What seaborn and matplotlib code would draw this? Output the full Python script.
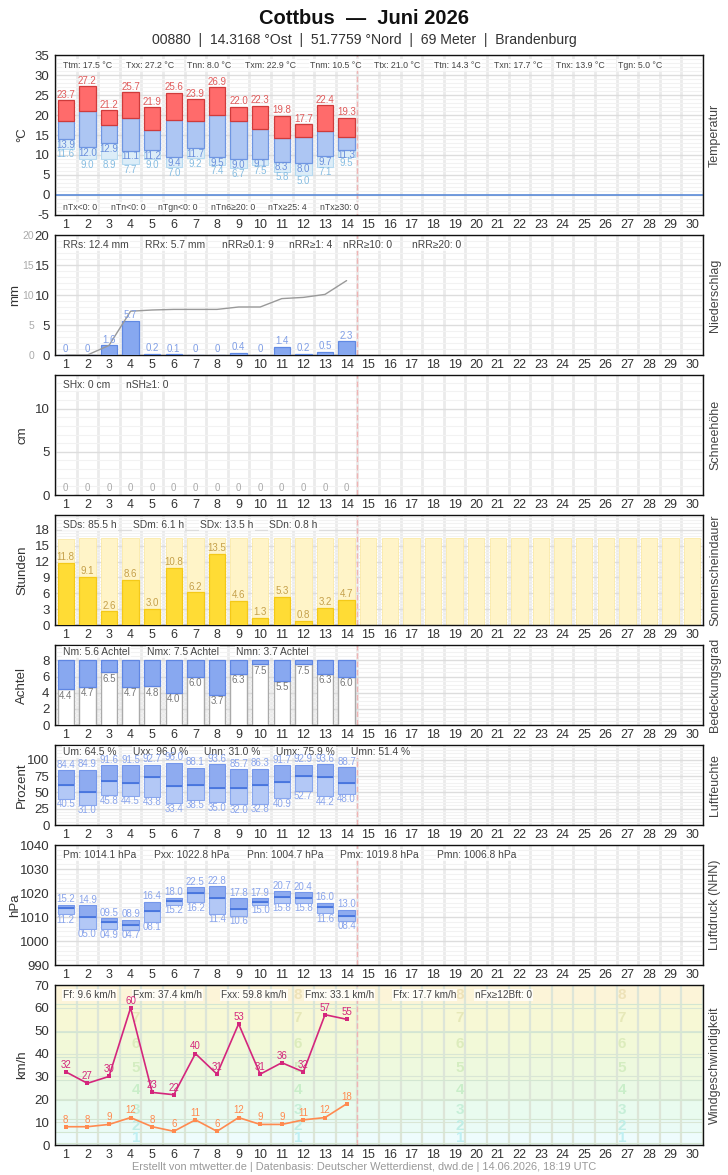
import numpy as np
import matplotlib
matplotlib.use("Agg")
import matplotlib.pyplot as plt
import seaborn as sns
from matplotlib.ticker import MultipleLocator

sns.set_theme(style="white")
plt.rcParams['font.family'] = ['Liberation Sans', 'DejaVu Sans']
plt.rcParams['axes.unicode_minus'] = False

# ---------------- data ----------------
days = list(range(1, 31))
obs_days = list(range(1, 15))

t_max = [23.7, 27.2, 21.2, 25.7, 21.9, 25.6, 23.9, 26.9, 22.0, 22.3, 19.8, 17.7, 22.4, 19.3]
t_mean = [18.5, 21.0, 17.6, 19.2, 16.2, 18.7, 18.5, 19.9, 18.5, 16.4, 14.3, 14.4, 16.0, 14.4]
t_min = [13.9, 12.0, 12.9, 11.1, 11.2, 9.4, 11.7, 9.5, 9.0, 9.1, 8.3, 8.0, 9.7, 11.3]
t_ground = [11.6, 9.0, 8.9, 7.7, 9.0, 7.0, 9.2, 7.4, 6.7, 7.5, 5.8, 5.0, 7.1, 9.5]

precip = [0, 0, 1.6, 5.7, 0.2, 0.1, 0, 0, 0.4, 0, 1.4, 0.2, 0.5, 2.3]
snow = [0, 0, 0, 0, 0, 0, 0, 0, 0, 0, 0, 0, 0, 0]

sun = [11.8, 9.1, 2.6, 8.6, 3.0, 10.8, 6.2, 13.5, 4.6, 1.3, 5.3, 0.8, 3.2, 4.7]
sun_possible = [16.3, 16.4, 16.4, 16.4, 16.4, 16.4, 16.4, 16.4, 16.4, 16.4,
                16.4, 16.4, 16.4, 16.4, 16.4, 16.4, 16.4, 16.4, 16.4, 16.4,
                16.4, 16.4, 16.4, 16.4, 16.4, 16.4, 16.4, 16.4, 16.4, 16.4]

cloud = [4.4, 4.7, 6.5, 4.7, 4.8, 4.0, 6.0, 3.7, 6.3, 7.5, 5.5, 7.5, 6.3, 6.0]

hum_max = [84.4, 84.9, 91.6, 91.5, 92.7, 96.0, 88.1, 93.6, 85.7, 86.3, 91.7, 92.9, 93.6, 88.7]
hum_mean = [61.5, 51.4, 67.0, 64.5, 73.8, 60.0, 61.5, 56.5, 56.5, 61.5, 66.0, 75.9, 73.8, 64.5]
hum_min = [40.5, 31.0, 45.8, 44.5, 43.8, 33.4, 38.5, 35.0, 32.0, 32.8, 40.9, 52.7, 44.2, 48.0]

p_max = [1015.2, 1014.9, 1009.5, 1008.9, 1016.4, 1018.0, 1022.5, 1022.8, 1017.8, 1017.9, 1020.7, 1020.4, 1016.0, 1013.0]
p_mean = [1013.8, 1009.8, 1007.9, 1006.8, 1012.5, 1016.7, 1019.8, 1017.8, 1013.2, 1016.3, 1018.2, 1017.8, 1014.0, 1010.3]
p_min = [1011.2, 1005.0, 1004.9, 1004.7, 1008.1, 1015.2, 1016.2, 1011.4, 1010.6, 1015.0, 1015.8, 1015.8, 1011.6, 1008.4]

wind_fx = [32, 27, 30, 60, 23, 22, 40, 31, 53, 31, 36, 32, 57, 55]
wind_ff = [8, 8, 9, 12, 8, 6, 11, 6, 12, 9, 9, 11, 12, 18]

bft_edges = [0, 1, 5.5, 11.5, 19.5, 28.5, 38.5, 49.5, 61.5, 70]
bft_fill = ['#f3fdff', '#eefcfd', '#eafbf6', '#e9fbef', '#eaf9e5', '#eef9de',
            '#f2f9d8', '#f7f8d5', '#fcf4d8']
bft_text = [None, '#bfeff2', '#bfeee6', '#c6efd8', '#c9eec9', '#d4edc1',
            '#dcecbc', '#e6e8b8', '#eee2b8']

stats_temp_top = ["Ttm: 17.5 °C", "Txx: 27.2 °C", "Tnn: 8.0 °C", "Txm: 22.9 °C", "Tnm: 10.5 °C",
                  "Ttx: 21.0 °C", "Ttn: 14.3 °C", "Txn: 17.7 °C", "Tnx: 13.9 °C", "Tgn: 5.0 °C"]
stats_temp_bot = ["nTx<0: 0", "nTn<0: 0", "nTgn<0: 0", "nTn6≥20: 0", "nTx≥25: 4", "nTx≥30: 0"]
stats_precip = ["RRs: 12.4 mm", "RRx: 5.7 mm", "nRR≥0.1: 9", "nRR≥1: 4", "nRR≥10: 0", "nRR≥20: 0"]
stats_snow = ["SHx: 0 cm", "nSH≥1: 0"]
stats_sun = ["SDs: 85.5 h", "SDm: 6.1 h", "SDx: 13.5 h", "SDn: 0.8 h"]
stats_cloud = ["Nm: 5.6 Achtel", "Nmx: 7.5 Achtel", "Nmn: 3.7 Achtel"]
stats_hum = ["Um: 64.5 %", "Uxx: 96.0 %", "Unn: 31.0 %", "Umx: 75.9 %", "Umn: 51.4 %"]
stats_press = ["Pm: 1014.1 hPa", "Pxx: 1022.8 hPa", "Pnn: 1004.7 hPa", "Pmx: 1019.8 hPa", "Pmn: 1006.8 hPa"]
stats_wind = ["Ff: 9.6 km/h", "Fxm: 37.4 km/h", "Fxx: 59.8 km/h", "Fmx: 33.1 km/h", "Ffx: 17.7 km/h", "nFx≥12Bft: 0"]

# ---------------- layout ----------------
W, H = 728, 1175
fig = plt.figure(figsize=(W / 100, H / 100), dpi=100)
fig.patch.set_facecolor('white')
AX_L, AX_W = 55, 648


def add_ax(top, bottom):
    return fig.add_axes([AX_L / W, 1 - bottom / H, AX_W / W, (bottom - top) / H])


def style(ax, ylim, major, minor, ylabel, rlabel, ylx=22):
    ax.set_xlim(0.5, 30.5)
    ax.set_ylim(*ylim)
    ax.set_facecolor('white')
    ax.yaxis.set_major_locator(MultipleLocator(major))
    ax.yaxis.set_minor_locator(MultipleLocator(minor))
    ax.set_xticks(days)
    ax.set_xticklabels([str(d) for d in days])
    ax.set_xticks(np.arange(0.5, 31, 1), minor=True)
    ax.tick_params(axis='both', which='both', length=0)
    ax.tick_params(axis='x', labelsize=9, colors='#333333', pad=3)
    ax.tick_params(axis='y', labelsize=9.5, colors='#333333', pad=4)
    ax.grid(False)
    ax.grid(True, which='minor', axis='y', color='#f2f2f2', lw=0.8)
    ax.grid(True, which='major', axis='y', color='#dddddd', lw=1)
    ax.grid(True, which='minor', axis='x', color='#ebebeb', lw=2)
    ax.set_axisbelow(True)
    ax.set_xlabel('')
    ax.set_ylabel('')
    for s in ax.spines.values():
        s.set_visible(True)
        s.set_color('#111111')
        s.set_linewidth(1)
    ax.axvline(14.5, color='#f0b4b4', lw=1, ls=(0, (4, 2)), zorder=1.5)
    ax.text((ylx - AX_L) / AX_W, 0.5, ylabel, transform=ax.transAxes, rotation=90,
            ha='center', va='center', fontsize=9.5, color='#333333')
    ax.text((715 - AX_L) / AX_W, 0.5, rlabel, transform=ax.transAxes, rotation=90,
            ha='center', va='center', fontsize=9, color='#444444')


def stats(ax, items, xs, top_px, y_px, fs=7.4):
    bb = ax.get_position()
    h_px = bb.height * H
    for it, xp in zip(items, xs):
        ax.text((xp - AX_L) / AX_W, 1 - (y_px - top_px) / h_px, it, transform=ax.transAxes,
                ha='left', va='center', fontsize=fs, color='#444444', zorder=6,
                bbox=dict(facecolor='white', edgecolor='none', pad=0.8, alpha=0.75))


def labels(ax, xs, ys, texts, color, va, off, fs=7):
    for x, y, t in zip(xs, ys, texts):
        ax.annotate(t, (x, y), xytext=(0, off), textcoords='offset points',
                    ha='center', va=va, fontsize=fs, color=color, zorder=7)


BW = 0.76
x = np.array(obs_days)

# ---------------- Temperatur ----------------
ax = add_ax(55, 215)
tmx, tme, tmi, tg = map(np.array, (t_max, t_mean, t_min, t_ground))
ax.bar(x, tmi - tg, bottom=tg, width=BW, color='#dcedf8', edgecolor='#b7daf0', lw=0.8, zorder=3)
ax.bar(x, tme - tmi, bottom=tmi, width=BW, color='#adc6f3', edgecolor='#6f96e2', lw=0.9, zorder=3)
ax.bar(x, tmx - tme, bottom=tme, width=BW, color='#ff6b6b', edgecolor='#cf3b3b', lw=0.9, zorder=3)
ax.axhline(0, color='#5b8bd9', lw=1.2, zorder=2)
labels(ax, x, tmx, [f"{v:.1f}" for v in t_max], '#e05c5c', 'bottom', 0.5)
labels(ax, x, tmi, [f"{v:.1f}" for v in t_min], '#6b90dc', 'top', -0.5)
labels(ax, x, tg, [f"{v:.1f}" for v in t_ground], '#86bde2', 'top', -0.5)
style(ax, (-5, 35), 5, 1, '°C', 'Temperatur')
stats(ax, stats_temp_top, [63, 126, 187, 245, 310, 374, 434, 494, 556, 618], 55, 65, fs=6.3)
stats(ax, stats_temp_bot, [63, 111, 158, 211, 268, 320], 55, 208, fs=6.3)

# ---------------- Niederschlag ----------------
ax = add_ax(235, 355)
sns.barplot(x=obs_days, y=precip, native_scale=True, width=BW, color='#87a8f0', saturation=1,
            edgecolor='#6089e3', linewidth=0.9, errorbar=None, ax=ax, zorder=3)
sns.lineplot(x=obs_days, y=np.cumsum(precip), color='#999999', lw=1, ax=ax, zorder=4)
labels(ax, x, precip, [f"{v:g}" for v in precip], '#7f9ee6', 'bottom', 0.5)
style(ax, (0, 20), 5, 1, 'mm', 'Niederschlag', ylx=15)
sec = ax.secondary_yaxis(-14 / AX_W)
sec.yaxis.set_major_locator(MultipleLocator(5))
sec.tick_params(length=0, labelsize=7.5, colors='#aaaaaa', pad=5)
sec.spines['left'].set_visible(False)
stats(ax, stats_precip, [63, 145, 222, 289, 343, 412], 235, 245)

# ---------------- Schneehöhe ----------------
ax = add_ax(375, 495)
ax.bar(x, snow, width=BW, color='#dddddd', zorder=3)
labels(ax, x, snow, [f"{v:g}" for v in snow], '#aaaaaa', 'bottom', 1.5)
style(ax, (0, 13.9), 5, 1, 'cm', 'Schneehöhe')
stats(ax, stats_snow, [63, 126], 375, 385)

# ---------------- Sonnenscheindauer ----------------
ax = add_ax(515, 625)
sns.barplot(x=days, y=sun_possible, native_scale=True, width=BW, color='#fff4c8', saturation=1,
            edgecolor='#fbeaa8', linewidth=0.6, errorbar=None, ax=ax, zorder=2)
ax.bar(x, sun, width=BW, color='#ffdc35', edgecolor='#f4c918', lw=0.9, zorder=3)
labels(ax, x, sun, [f"{v:.1f}" for v in sun], '#c5a04a', 'bottom', 0.5)
style(ax, (0, 20.8), 3, 0.6, 'Stunden', 'Sonnenscheindauer')
stats(ax, stats_sun, [63, 133, 200, 269], 515, 525)

# ---------------- Bedeckungsgrad ----------------
ax = add_ax(645, 725)
cl = np.array(cloud)
ax.bar(x, cl, width=BW, color='white', edgecolor='#aaaaaa', lw=1, zorder=3)
ax.bar(x, 8 - cl, bottom=cl, width=BW, color='#88a8f0', edgecolor='#5f86e3', lw=0.9, zorder=3)
labels(ax, x, cl, [f"{v:.1f}" for v in cloud], '#777777', 'top', -1)
style(ax, (0, 9.9), 2, 0.5, 'Achtel', 'Bedeckungsgrad')
stats(ax, stats_cloud, [63, 147, 236], 645, 652)

# ---------------- Luftfeuchte ----------------
ax = add_ax(745, 825)
hmx, hme, hmi = map(np.array, (hum_max, hum_mean, hum_min))
ax.bar(x, hme - hmi, bottom=hmi, width=BW, color='#b3c8f6', edgecolor='#89a7ee', lw=0.8, zorder=3)
ax.bar(x, hmx - hme, bottom=hme, width=BW, color='#8eabf0', edgecolor='#7597ea', lw=0.8, zorder=3)
ax.hlines(hme, x - BW / 2, x + BW / 2, color='#4170dc', lw=1.2, zorder=4)
labels(ax, x, hmx, [f"{v:.1f}" for v in hum_max], '#8aa5ec', 'bottom', 0.3)
labels(ax, x, hmi, [f"{v:.1f}" for v in hum_min], '#8aa5ec', 'top', -0.3)
style(ax, (0, 123), 25, 5, 'Prozent', 'Luftfeuchte')
stats(ax, stats_hum, [63, 133, 204, 276, 351], 745, 752)

# ---------------- Luftdruck ----------------
ax = add_ax(845, 965)
pmx, pme, pmi = map(np.array, (p_max, p_mean, p_min))
ax.bar(x, pme - pmi, bottom=pmi, width=BW, color='#b3c8f6', edgecolor='#89a7ee', lw=0.8, zorder=3)
ax.bar(x, pmx - pme, bottom=pme, width=BW, color='#8eabf0', edgecolor='#7597ea', lw=0.8, zorder=3)
ax.hlines(pme, x - BW / 2, x + BW / 2, color='#4170dc', lw=1.2, zorder=4)
labels(ax, x, pmx, [f"{v - 1000:04.1f}" for v in p_max], '#8aa5ec', 'bottom', 0.3)
labels(ax, x, pmi, [f"{v - 1000:04.1f}" for v in p_min], '#8aa5ec', 'top', -0.3)
style(ax, (990, 1040), 10, 2, 'hPa', 'Luftdruck (NHN)', ylx=15)
stats(ax, stats_press, [63, 154, 247, 340, 437], 845, 855)

# ---------------- Windgeschwindigkeit ----------------
ax = add_ax(985, 1145)
for i in range(len(bft_fill)):
    ax.axhspan(bft_edges[i], bft_edges[i + 1], color=bft_fill[i], lw=0, zorder=0)
    if i > 0:
        ax.axhline(bft_edges[i], color='#d3e6d2', lw=0.8, zorder=1)
        yc = (bft_edges[i] + bft_edges[i + 1]) / 2
        for fx in (1 / 8, 3 / 8, 5 / 8, 7 / 8):
            ax.text(fx, yc, str(i), transform=ax.get_yaxis_transform(), ha='center', va='center',
                    fontsize=11, fontweight='bold', color=bft_text[i], zorder=1.2)
sns.lineplot(x=obs_days, y=wind_fx, color='#d4267c', lw=1.2, marker='s', markersize=3,
             markeredgewidth=0, ax=ax, zorder=5)
sns.lineplot(x=obs_days, y=wind_ff, color='#ff8a50', lw=1.2, marker='s', markersize=3,
             markeredgewidth=0, ax=ax, zorder=5)
labels(ax, x, wind_fx, [str(v) for v in wind_fx], '#d4267c', 'bottom', 1.5)
labels(ax, x, wind_ff, [str(v) for v in wind_ff], '#ff8a50', 'bottom', 1.5)
style(ax, (0, 70), 10, 10, 'km/h', 'Windgeschwindigkeit')
ax.grid(True, which='minor', axis='x', color='#dde5d8', lw=1.6)
ax.grid(True, which='major', axis='y', color='#d9e6d5', lw=0.8)
stats(ax, stats_wind, [63, 133, 221, 305, 393, 475], 985, 995, fs=7.2)

# ---------------- titles ----------------
fig.text(0.5, 1 - 18 / H, "Cottbus  —  Juni 2026", ha='center', va='center',
         fontsize=14.5, fontweight='bold', color='#111111')
fig.text(0.5, 1 - 40 / H, "00880  |  14.3168 °Ost  |  51.7759 °Nord  |  69 Meter  |  Brandenburg",
         ha='center', va='center', fontsize=10.1, color='#333333')
fig.text(0.5, 1 - 1167 / H,
         "Erstellt von mtwetter.de | Datenbasis: Deutscher Wetterdienst, dwd.de | 14.06.2026, 18:19 UTC",
         ha='center', va='center', fontsize=7.9, color='#999999')

fig.savefig("out.png", dpi=100, facecolor='white')
